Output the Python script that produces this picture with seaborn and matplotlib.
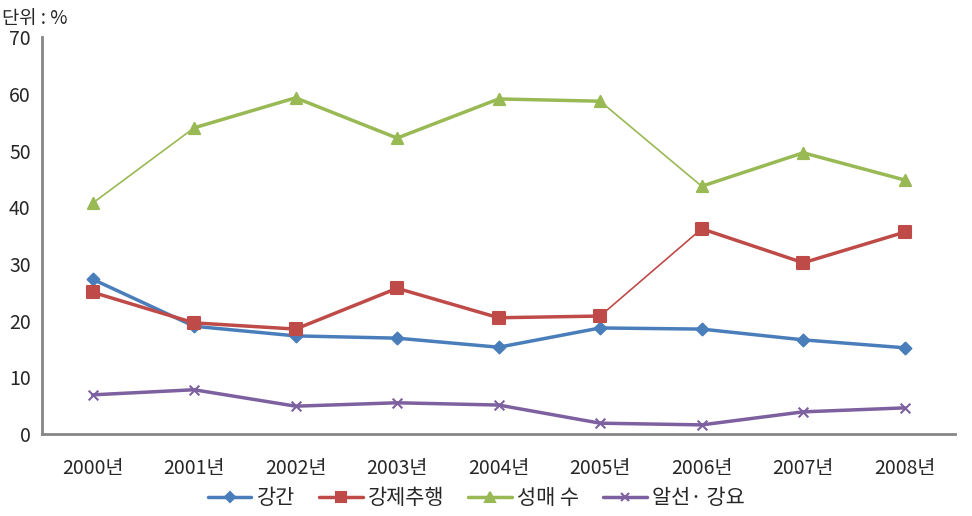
import numpy as np
import matplotlib
matplotlib.use("Agg")
import matplotlib.pyplot as plt
from matplotlib.lines import Line2D
import seaborn as sns

years = ["2000년", "2001년", "2002년", "2003년", "2004년", "2005년", "2006년", "2007년", "2008년"]
rape = [27.3, 19.0, 17.3, 16.9, 15.3, 18.7, 18.5, 16.6, 15.2]
molest = [25.0, 19.6, 18.5, 25.7, 20.5, 20.8, 36.2, 30.2, 35.6]
prostitution = [40.7, 54.0, 59.3, 52.2, 59.1, 58.7, 43.7, 49.6, 44.8]
brokering = [6.9, 7.8, 4.9, 5.5, 5.1, 1.9, 1.6, 3.9, 4.6]
names = ["강간", "강제추행", "성매 수", "알선· 강요"]

sns.set_style("white")
plt.rcParams['font.family'] = ['Noto Sans CJK KR', 'DejaVu Sans']

# style per series: colour, marker, marker size, thin segments (Excel look)
styles = [
    ("#4A7EBB", "D", 6, []),
    ("#BE4B48", "s", 8, [5]),
    ("#98B954", "^", 8, [0, 5]),
    ("#7D60A0", "x", 7, []),
]

fig, ax = plt.subplots(figsize=(9.72, 5.16), dpi=100)
fig.subplots_adjust(left=0.043, right=0.983, top=0.928, bottom=0.159)

x = np.arange(len(years))
handles = []
for vals, name, (col, mk, ms, thin) in zip([rape, molest, prostitution, brokering], names, styles):
    for i in range(len(vals) - 1):
        lw = 1.2 if i in thin else 2.5
        ax.plot(x[i:i + 2], vals[i:i + 2], color=col, lw=lw, solid_capstyle="round", zorder=2)
    sns.scatterplot(x=x, y=vals, ax=ax, color=col, marker=mk, s=ms ** 2,
                    edgecolor=col if mk != "x" else None, linewidth=1.5, zorder=3, legend=False)
    handles.append(Line2D([], [], color=col, lw=2.5, marker=mk, markersize=ms * 0.9,
                          markeredgewidth=1.5, label=name))

ax.set_ylim(0, 70)
ax.set_yticks(range(0, 71, 10))
ax.set_xlim(-0.5, len(years) - 0.5)
ax.set_xticks(np.arange(-0.5, len(years), 1.0))
ax.set_xticklabels([])
ax.set_xticks(x, minor=True)
ax.set_xticklabels(years, minor=True, fontsize=14)
ax.tick_params(axis="x", which="minor", length=0, pad=17)
ax.tick_params(axis="x", which="major", length=5, width=2, color="#868686", direction="out")
ax.tick_params(axis="y", length=5, width=2, color="#868686", direction="out", labelsize=14, pad=3)
ax.set_xlabel("")
ax.set_ylabel("")

sns.despine(ax=ax, top=True, right=True)
for sp in ["left", "bottom"]:
    ax.spines[sp].set_color("#868686")
    ax.spines[sp].set_linewidth(2)

fig.text(0.002, 0.964, "단위 : %", fontsize=13.5, ha="left", va="center")

fig.legend(handles=handles, loc="center", bbox_to_anchor=(0.49, 0.035), ncol=4,
           frameon=False, fontsize=15, handlelength=2.1, columnspacing=1.15, handletextpad=0.25)

fig.savefig("out.png", dpi=100)
